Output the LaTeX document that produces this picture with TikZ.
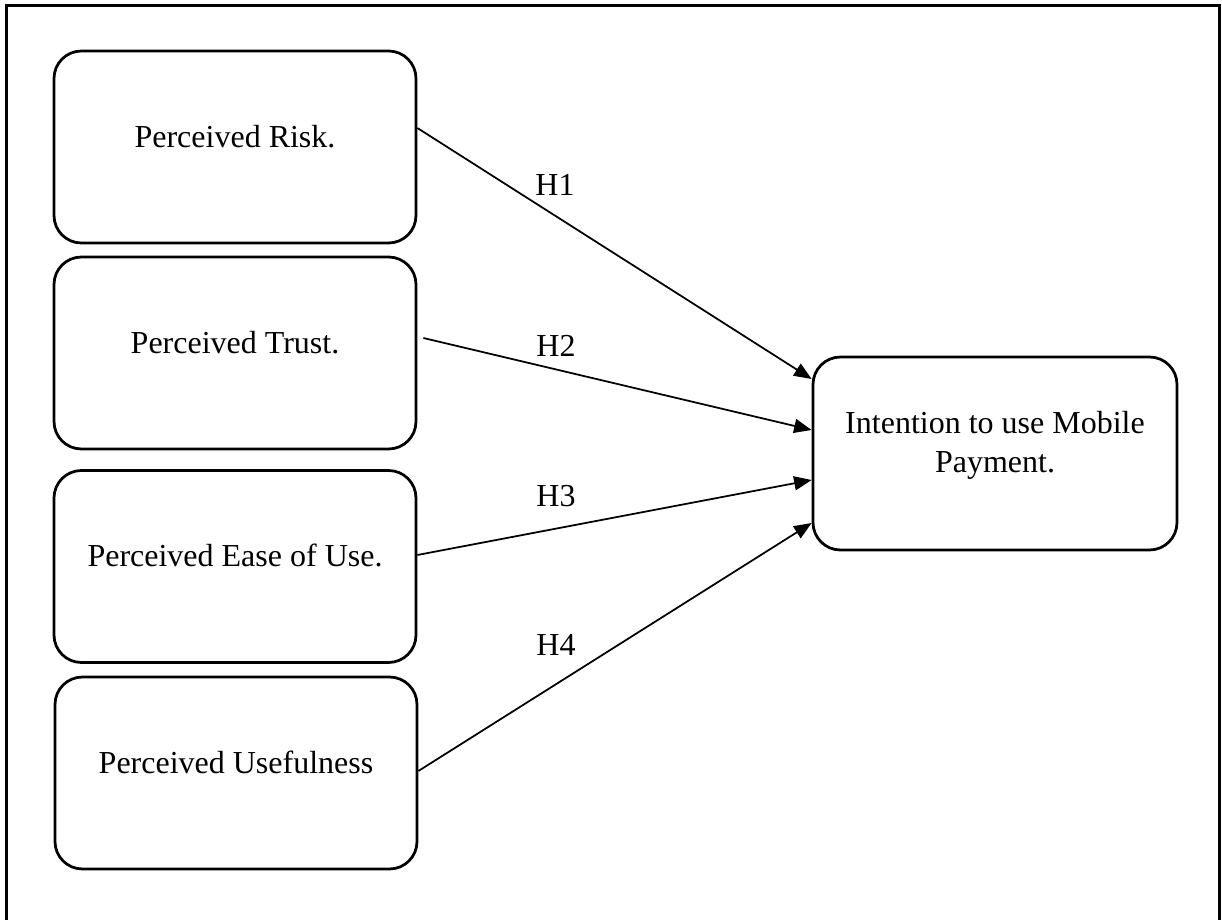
\documentclass[tikz,border=0pt]{standalone}
\usepackage{fontspec}
\setmainfont{Liberation Serif}
\usetikzlibrary{arrows.meta}

\begin{document}
\begin{tikzpicture}[x=0.4pt, y=-0.4pt,
    every node/.style={font=\fontsize{12.8}{15.6}\selectfont},
    box/.style={draw, line width=1.1pt, rounded corners=11pt, minimum width=144.8pt,
        minimum height=76.8pt, inner sep=0pt, text height=9pt, text depth=9pt},
    link/.style={line width=0.7pt, -{Triangle[length=7pt,width=5.6pt]}}]
    \useasboundingbox (0,0) rectangle (1222,920);

    % Frame
    \draw[line width=1.2pt] (6.5,930) -- (6.5,5.5) -- (1219.5,5.5) -- (1219.5,930);

    % Nodes
    \node[box] (risk) at (235,147) {Perceived Risk.};
    \node[box] (trust) at (235,353) {Perceived Trust.};
    \node[box] (ease) at (235,566.5) {Perceived Ease of Use.};
    \node[box] (useful) at (236,773) {Perceived Usefulness};
    \node[box, minimum width=145.6pt, minimum height=77.2pt, align=center,
        text height={}, text depth=9.4pt] (intention) at (995,453.5)
        {Intention to use Mobile\\Payment.};

    % Edges
    \draw[link] ([yshift=7.6pt]risk.east) -- ([yshift=29.8pt]intention.west);
    \draw[link] ([xshift=2.4pt,yshift=6pt]trust.east) -- ([yshift=9.4pt]intention.west);
    \draw[link] ([yshift=4.6pt]ease.east) -- ([yshift=-10.6pt]intention.west);
    \draw[link] ([yshift=0.8pt]useful.east) -- ([yshift=-27.8pt]intention.west);

    % Labels
    \node (h1) at (555,185) {H1};
    \node (h2) at (556,346) {H2};
    \node (h3) at (556,496) {H3};
    \node (h4) at (556,645) {H4};
\end{tikzpicture}
\end{document}
